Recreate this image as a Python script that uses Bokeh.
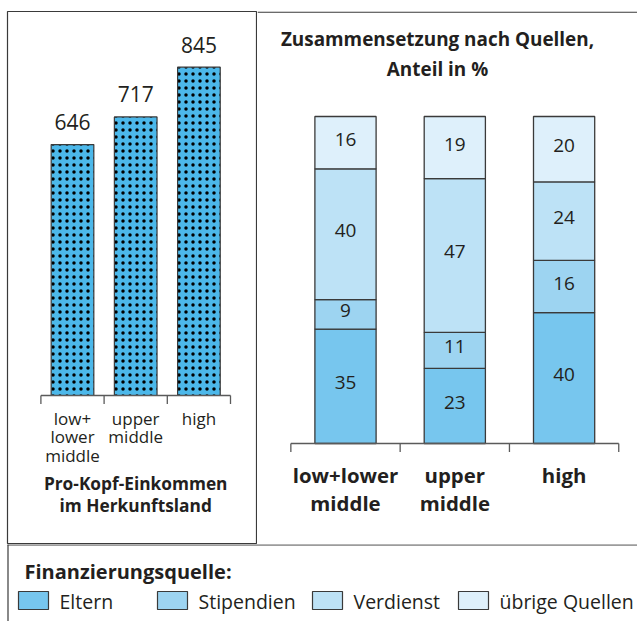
from bokeh.plotting import figure
from bokeh.layouts import column, row
from bokeh.models import Range1d, Span, ColumnDataSource
from bokeh.core.properties import value
from bokeh.embed import file_html
from bokeh.resources import INLINE

# ---------------- data ----------------
income_groups = ["low+\nlower\nmiddle", "upper\nmiddle", "high"]
per_capita = [646, 717, 845]

groups_right = ["low+lower\nmiddle", "upper\nmiddle", "high"]
sources = ["Eltern", "Stipendien", "Verdienst", "übrige Quellen"]
eltern = [35, 23, 40]
stipendien = [9, 11, 16]
verdienst = [40, 47, 24]
uebrige = [16, 19, 20]
source_colors = ["#77c6ee", "#9dd4f1", "#bde2f6", "#def0fb"]

left_title = ["Pro-Kopf-Einkommen", "im Herkunftsland"]
right_title = ["Zusammensetzung nach Quellen,", "Anteil in %"]
legend_title = "Finanzierungsquelle:"

# ---------------- styles ----------------
FONT = value("Open Sans")
TXT = "#231f20"
EDGE = "#3a3a3a"
AXC = "#5a5a5a"


def make_fig(w, h, xr, yr, **kw):
    p = figure(width=w, height=h, x_range=xr, y_range=yr, output_backend="svg",
               toolbar_location=None, x_axis_location=None, y_axis_location=None,
               min_border=0, **kw)
    p.background_fill_color = "white"
    p.border_fill_color = "white"
    p.xgrid.visible = False
    p.ygrid.visible = False
    return p


# ---------------- left panel ----------------
L_SX, L_SY = 63.2, 0.3885          # px per unit
def lx(px): return (px - 72) / L_SX
def ly(py): return (395 - py) / L_SY

left = make_fig(257, 544, Range1d(lx(7), lx(256)), Range1d(ly(543), ly(11)),
                min_border_top=11, min_border_bottom=1, min_border_left=7, min_border_right=1)
left.outline_line_color = EDGE
left.outline_line_width = 1.2

lx_idx = list(range(len(per_capita)))
lsrc = ColumnDataSource(dict(x=lx_idx, top=per_capita, lab=[str(v) for v in per_capita],
                             cat=income_groups))
left.vbar(x="x", top="top", bottom=0, width=0.675, source=lsrc,
          fill_color="#4cb8ea", line_color=EDGE, line_width=1.2,
          hatch_pattern="dot", hatch_color="black", hatch_scale=7)
left.text(x="x", y="top", text="lab", source=lsrc, text_align="center",
          text_baseline="middle", y_offset=-22.5, text_font=FONT,
          text_font_size="21px", text_color=TXT)
# bracket axis
edges_l = [i - 0.5 for i in range(len(per_capita) + 1)]
left.segment(x0=[edges_l[0]], y0=[0], x1=[edges_l[-1]], y1=[0], line_color=AXC, line_width=1.3)
left.segment(x0=edges_l, y0=[0] * len(edges_l), x1=edges_l,
             y1=[-8.5 / L_SY] * len(edges_l), line_color=AXC, line_width=1.3)
left.text(x="x", y=ly(406.5), text="cat", source=lsrc, text_align="center",
          text_baseline="top", text_font=FONT, text_font_size="17px",
          text_line_height=0.8, text_color=TXT)
left.text(x=[1, 1], y=[ly(483), ly(505)], text=left_title, text_align="center",
          text_baseline="middle", text_font=FONT, text_font_size="17.3px",
          text_font_style="bold", text_color=TXT)

# ---------------- right panel ----------------
R_SX, R_SY = 109.3, 3.27
def rx(px): return (px - 345) / R_SX
def ry(py): return (443 - py) / R_SY

right = make_fig(380, 544, Range1d(rx(257), rx(637)), Range1d(ry(543), ry(11)),
                 min_border_top=11, min_border_bottom=1)
right.outline_line_color = None

rx_idx = list(range(len(eltern)))
rsrc = ColumnDataSource({"x": rx_idx, sources[0]: eltern, sources[1]: stipendien,
                         sources[2]: verdienst, sources[3]: uebrige, "cat": groups_right})
right.vbar_stack(sources, x="x", width=0.56, source=rsrc, fill_color=source_colors,
                 line_color=EDGE, line_width=1.3)
# segment labels at centers of stacked segments
lab_x, lab_y, lab_t = [], [], []
series = [eltern, stipendien, verdienst, uebrige]
for i in rx_idx:
    base = 0
    for s in series:
        lab_x.append(i)
        lab_y.append(base + s[i] / 2)
        lab_t.append(str(s[i]))
        base += s[i]
right.text(x=lab_x, y=lab_y, text=lab_t, text_align="center", text_baseline="middle",
           y_offset=-3.5, text_font=FONT, text_font_size="19px", text_color=TXT)
edges_r = [i - 0.5 for i in range(len(eltern) + 1)]
right.segment(x0=[edges_r[0]], y0=[0], x1=[edges_r[-1]], y1=[0], line_color=AXC, line_width=1.3)
right.segment(x0=edges_r, y0=[0] * len(edges_r), x1=edges_r,
              y1=[-8.5 / R_SY] * len(edges_r), line_color=AXC, line_width=1.3)
right.text(x="x", y=ry(460), text="cat", source=rsrc, text_align="center",
           text_baseline="top", text_font=FONT, text_font_size="20.4px",
           text_font_style="bold", text_line_height=1.02, text_color=TXT)
right.text(x=[rx(437), rx(437)], y=[ry(38), ry(68.5)], text=right_title, text_align="center",
           text_baseline="middle", text_font=FONT, text_font_size="18.9px",
           text_font_style="bold", text_color=TXT)
right.add_layout(Span(location=ry(11.6), dimension="width", line_color=EDGE, line_width=1.2))

# ---------------- legend panel ----------------
leg = make_fig(637, 77, Range1d(0, 637), Range1d(621, 544))
leg.outline_line_color = None
leg.segment(x0=[7], y0=[544.4], x1=[637], y1=[544.4], line_color=EDGE, line_width=1.2)
leg.segment(x0=[7.5], y0=[544], x1=[7.5], y1=[621], line_color=EDGE, line_width=1.2)
leg.text(x=[24], y=[570.5], text=[legend_title], text_align="left", text_baseline="middle",
         text_font=FONT, text_font_size="20px", text_font_style="bold", text_color=TXT)
box_left = [18, 157, 312, 458]
leg.quad(left=box_left, right=[b + 30 for b in box_left], top=[591] * 4, bottom=[609] * 4,
         fill_color=source_colors, line_color=EDGE, line_width=1.2)
leg.text(x=[b + 41 for b in box_left], y=[600.5] * 4, text=sources, text_align="left",
         text_baseline="middle", text_font=FONT, text_font_size="19.5px", text_color=TXT)

layout = column(row(left, right, spacing=0), leg, spacing=0)

open("out.html", "w").write(file_html(layout, INLINE))
